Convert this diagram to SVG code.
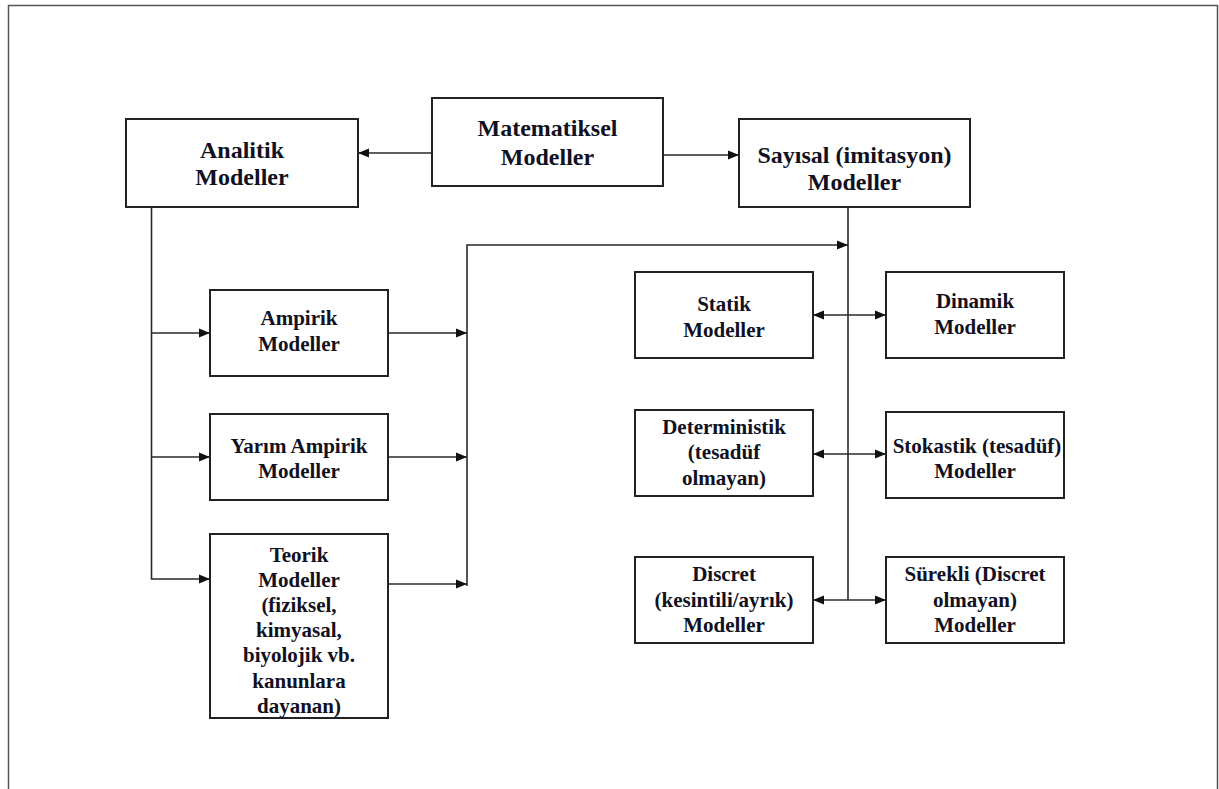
<svg xmlns="http://www.w3.org/2000/svg" width="1219" height="789" viewBox="0 0 1219 789">
  <style>
    .box { fill: #ffffff; stroke: #222222; stroke-width: 2; }
    .lbl { font-family: "Liberation Serif", "Times New Roman", serif; font-weight: bold; font-size: 21px; fill: #111122; text-anchor: middle; }
    .big { font-size: 24px; }
    .wire { fill: none; stroke: #2a2a2a; stroke-width: 1.6; }
    .frame { fill: none; stroke: #555555; stroke-width: 1.5; }
  </style>
  <defs>
    <marker id="arrow" viewBox="0 0 11 10" refX="11" refY="5" markerWidth="11" markerHeight="10" markerUnits="userSpaceOnUse" orient="auto-start-reverse">
      <path d="M0,0.5 L11,5 L0,9.5 Z" fill="#111111"/>
    </marker>
  </defs>

  <rect width="1219" height="789" fill="#ffffff"/>
  <!-- page frame (open at the bottom) -->
  <path class="frame" d="M8.5,789 V5.5 H1217.5 V789"/>

  <!-- connectors -->
  <g id="connectors">
    <line class="wire" x1="432" y1="153" x2="358" y2="153" marker-end="url(#arrow)"/>
    <line class="wire" x1="663" y1="155" x2="739" y2="155" marker-end="url(#arrow)"/>

    <!-- analytic branch -->
    <polyline class="wire" points="151.5,207 151.5,579 210,579" marker-end="url(#arrow)"/>
    <line class="wire" x1="151.5" y1="333" x2="210" y2="333" marker-end="url(#arrow)"/>
    <line class="wire" x1="151.5" y1="457" x2="210" y2="457" marker-end="url(#arrow)"/>

    <!-- collector towards the numerical branch -->
    <line class="wire" x1="388" y1="333" x2="467" y2="333" marker-end="url(#arrow)"/>
    <line class="wire" x1="388" y1="457" x2="467" y2="457" marker-end="url(#arrow)"/>
    <line class="wire" x1="388" y1="584" x2="467" y2="584" marker-end="url(#arrow)"/>
    <polyline class="wire" points="467,586 467,245 848,245" marker-end="url(#arrow)"/>

    <!-- numerical branch -->
    <line class="wire" x1="848" y1="207" x2="848" y2="600"/>
    <line class="wire" x1="848" y1="315" x2="813" y2="315" marker-end="url(#arrow)"/>
    <line class="wire" x1="848" y1="315" x2="886" y2="315" marker-end="url(#arrow)"/>
    <line class="wire" x1="848" y1="454" x2="813" y2="454" marker-end="url(#arrow)"/>
    <line class="wire" x1="848" y1="454" x2="886" y2="454" marker-end="url(#arrow)"/>
    <line class="wire" x1="848" y1="600" x2="813" y2="600" marker-end="url(#arrow)"/>
    <line class="wire" x1="848" y1="600" x2="886" y2="600" marker-end="url(#arrow)"/>
  </g>

  <g id="matematiksel">
    <rect class="box" x="432" y="98" width="231" height="88"/>
    <text class="lbl big" x="547.5" y="136">Matematiksel</text>
    <text class="lbl big" x="547.5" y="165">Modeller</text>
  </g>
  <g id="analitik">
    <rect class="box" x="126" y="119" width="232" height="88"/>
    <text class="lbl big" x="242" y="158">Analitik</text>
    <text class="lbl big" x="242" y="185">Modeller</text>
  </g>
  <g id="sayisal">
    <rect class="box" x="739" y="119" width="231" height="88"/>
    <text class="lbl big" x="854.5" y="163">Sayısal (imitasyon)</text>
    <text class="lbl big" x="854.5" y="190">Modeller</text>
  </g>

  <g id="ampirik">
    <rect class="box" x="210" y="290" width="178" height="86"/>
    <text class="lbl" x="299" y="325">Ampirik</text>
    <text class="lbl" x="299" y="351">Modeller</text>
  </g>
  <g id="yarim-ampirik">
    <rect class="box" x="210" y="414" width="178" height="86"/>
    <text class="lbl" x="299" y="453">Yarım Ampirik</text>
    <text class="lbl" x="299" y="478">Modeller</text>
  </g>
  <g id="teorik">
    <rect class="box" x="210" y="534" width="178" height="184"/>
    <text class="lbl" x="299" y="562">Teorik</text>
    <text class="lbl" x="299" y="587">Modeller</text>
    <text class="lbl" x="299" y="612">(fiziksel,</text>
    <text class="lbl" x="299" y="637">kimyasal,</text>
    <text class="lbl" x="299" y="662">biyolojik vb.</text>
    <text class="lbl" x="299" y="688">kanunlara</text>
    <text class="lbl" x="299" y="713">dayanan)</text>
  </g>

  <g id="statik">
    <rect class="box" x="635" y="272" width="178" height="86"/>
    <text class="lbl" x="724" y="311">Statik</text>
    <text class="lbl" x="724" y="337">Modeller</text>
  </g>
  <g id="dinamik">
    <rect class="box" x="886" y="272" width="178" height="86"/>
    <text class="lbl" x="975" y="308">Dinamik</text>
    <text class="lbl" x="975" y="334">Modeller</text>
  </g>
  <g id="deterministik">
    <rect class="box" x="635" y="410" width="178" height="86"/>
    <text class="lbl" x="724" y="434">Deterministik</text>
    <text class="lbl" x="724" y="459">(tesadüf</text>
    <text class="lbl" x="724" y="485">olmayan)</text>
  </g>
  <g id="stokastik">
    <rect class="box" x="886" y="412" width="178" height="86"/>
    <text class="lbl" x="977" y="453">Stokastik (tesadüf)</text>
    <text class="lbl" x="975" y="478">Modeller</text>
  </g>
  <g id="discret">
    <rect class="box" x="635" y="557" width="178" height="86"/>
    <text class="lbl" x="724" y="581">Discret</text>
    <text class="lbl" x="724" y="607">(kesintili/ayrık)</text>
    <text class="lbl" x="724" y="632">Modeller</text>
  </g>
  <g id="surekli">
    <rect class="box" x="886" y="557" width="178" height="86"/>
    <text class="lbl" x="975" y="581">Sürekli (Discret</text>
    <text class="lbl" x="975" y="607">olmayan)</text>
    <text class="lbl" x="975" y="632">Modeller</text>
  </g>
</svg>
